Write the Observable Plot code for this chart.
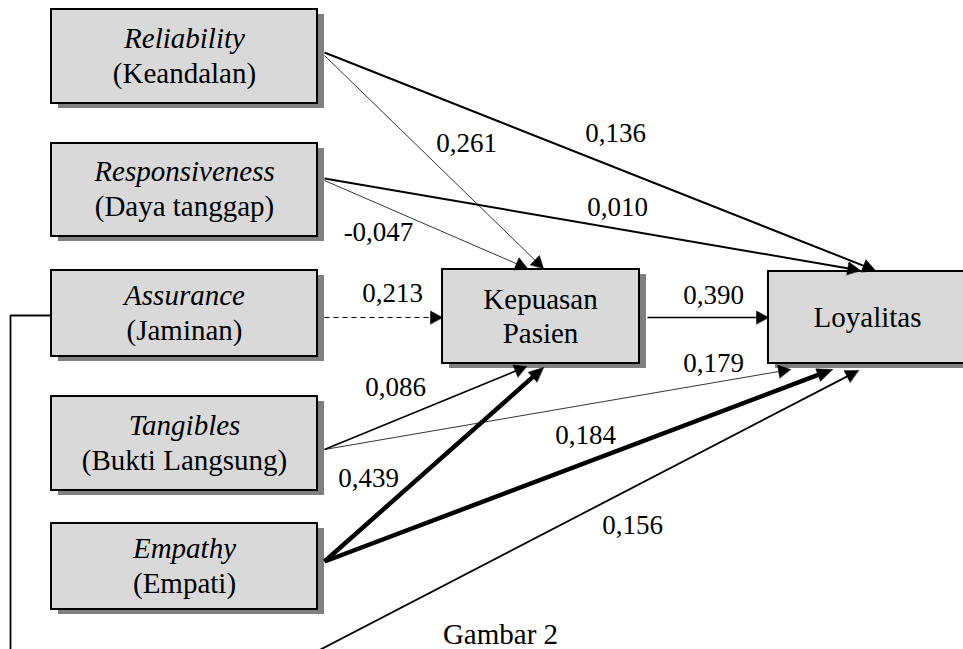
<!DOCTYPE html>
<html><head><meta charset="utf-8">
<script src="https://cdn.jsdelivr.net/npm/d3@7"></script>
<script src="https://cdn.jsdelivr.net/npm/@observablehq/plot@0.6"></script>
<style>body{margin:0;background:#fff} svg{display:block;overflow:hidden} svg text{font-family:"Liberation Serif","Times New Roman",serif !important}</style>
</head><body><div id="chart"></div>
<script>
// ---- data ----
const nodeIds = ["rel", "resp", "ass", "tan", "emp", "kep", "loy"];
const nodeTitles = ["Reliability", "Responsiveness", "Assurance", "Tangibles", "Empathy", "Kepuasan", "Loyalitas"];
const nodeSubtitles = ["(Keandalan)", "(Daya tanggap)", "(Jaminan)", "(Bukti Langsung)", "(Empati)", "Pasien", ""];
const pathFrom = ["rel", "rel", "resp", "resp", "ass", "kep", "tan", "tan", "emp", "emp", "ass"];
const pathTo   = ["kep", "loy", "kep", "loy", "kep", "loy", "kep", "loy", "kep", "loy", "loy"];
const coefficients = ["0,261", "0,136", "-0,047", "0,010", "0,213", "0,390", "0,086", "0,179", "0,439", "0,184", "0,156"];
const caption = "Gambar 2";

// ---- layout (pixel positions in the diagram's coordinate space) ----
const boxLayout = {
  rel: [51, 9, 317, 103], resp: [51, 143, 317, 236], ass: [51, 270, 317, 356],
  tan: [51, 396, 317, 490], emp: [51, 523, 317, 609],
  kep: [442, 269, 639, 363], loy: [768, 271, 975, 363]
};
const textCenters = {rel: 184, resp: 184, ass: 184, tan: 184, emp: 184, kep: 540, loy: 867};
// each path: list of points (start ... tip), label position, stroke width, dashed, head size
const pathLayout = [
  {pts: [[324, 55], [543, 268]], label: [466, 143], w: 0.8, head: 14},
  {pts: [[324, 52], [875, 270]], label: [615, 133], w: 2, head: 15},
  {pts: [[324, 180], [527, 268]], label: [378, 232], w: 0.8, head: 14},
  {pts: [[324, 178], [860, 270]], label: [617, 207], w: 2, head: 15},
  {pts: [[324, 317], [442, 317]], label: [392, 293], w: 1.2, head: 14, dash: true},
  {pts: [[647, 317], [768, 317]], label: [713, 295], w: 1.6, head: 14},
  {pts: [[324, 449], [526, 366]], label: [395, 387], w: 1.6, head: 14},
  {pts: [[324, 449], [790, 369]], label: [713, 363], w: 0.8, head: 14},
  {pts: [[324, 561], [543, 367]], label: [368, 478], w: 4.5, head: 17},
  {pts: [[324, 561], [832, 369]], label: [585, 435], w: 4.5, head: 18},
  {pts: [[51, 315], [10, 315], [10, 690], [241, 690], [858, 370]], label: [632, 525], w: 1.8, head: 15}
];

// ---- build tables ----
const boxes = nodeIds.map((id, i) => {
  const [x1, y1, x2, y2] = boxLayout[id];
  return {id, title: nodeTitles[i], sub: nodeSubtitles[i], x1, y1, x2, y2, cx: textCenters[id], cy: (y1 + y2) / 2};
});

const segments = [], polylines = [], heads = [], labels = [];
pathLayout.forEach((p, i) => {
  const pts = p.pts.map(d => d.slice());
  const n = pts.length;
  const [sx, sy] = pts[n - 2], [tx, ty] = pts[n - 1];
  const L = Math.hypot(tx - sx, ty - sy);
  const ux = (tx - sx) / L, uy = (ty - sy) / L;
  heads.push({x: tx, y: ty, rotate: Math.atan2(ux, -uy) * 180 / Math.PI, len: p.head});
  pts[n - 1] = [tx - ux * p.head * 0.7, ty - uy * p.head * 0.7];
  if (n === 2) {
    segments.push({x1: pts[0][0], y1: pts[0][1], x2: pts[1][0], y2: pts[1][1], w: p.w, dash: !!p.dash,
                   from: pathFrom[i], to: pathTo[i]});
  } else {
    pts.forEach(([x, y]) => polylines.push({x, y, w: p.w, path: i}));
  }
  labels.push({x: p.label[0], y: p.label[1], text: coefficients[i]});
});

const arrowShape = {
  draw(context, l, r) {
    context.moveTo(0, -l);
    context.lineTo(-r, 0);
    context.lineTo(r, 0);
    context.closePath();
  }
};

const font = "Liberation Serif";
const left = boxes.filter(b => !["kep", "loy"].includes(b.id));
const T = {fontSize: 29, fill: "black", fontFamily: font};

const chart = Plot.plot({
  width: 963, height: 649, margin: 0,
  x: {domain: [0, 963], range: [0, 963], axis: null},
  y: {domain: [0, 649], range: [0, 649], axis: null},
  style: {fontFamily: font, background: "white"},
  marks: [
    Plot.rect(boxes, {x1: "x1", x2: "x2", y1: "y1", y2: "y2", fill: "#808080", dx: 7, dy: 5}),
    Plot.rect(boxes, {x1: "x1", x2: "x2", y1: "y1", y2: "y2", fill: "#d9d9d9", stroke: "black", strokeWidth: 2}),
    Plot.link(segments.filter(d => !d.dash), {x1: "x1", y1: "y1", x2: "x2", y2: "y2", stroke: "black", strokeWidth: "w"}),
    Plot.link(segments.filter(d => d.dash), {x1: "x1", y1: "y1", x2: "x2", y2: "y2", stroke: "black", strokeWidth: "w", strokeDasharray: "5,4"}),
    Plot.line(polylines, {x: "x", y: "y", z: "path", stroke: "black", strokeWidth: 1.8, strokeLinejoin: "miter", strokeLinecap: "butt"}),
    Plot.vector(heads, {x: "x", y: "y", rotate: "rotate", length: d => d.len, anchor: "end", shape: arrowShape, r: 6.5,
                        fill: "black", stroke: "black", strokeWidth: 0.5}),
    Plot.text(left, {x: "cx", y: d => d.cy - 18, text: "title", fontStyle: "italic", ...T}),
    Plot.text(left, {x: "cx", y: d => d.cy + 17, text: "sub", ...T}),
    Plot.text(boxes.filter(b => b.id === "kep"), {x: "cx", y: d => d.cy - 17, text: "title", ...T}),
    Plot.text(boxes.filter(b => b.id === "kep"), {x: "cx", y: d => d.cy + 17, text: "sub", ...T}),
    Plot.text(boxes.filter(b => b.id === "loy"), {x: "cx", y: "cy", text: "title", ...T}),
    Plot.text(labels, {x: "x", y: "y", text: "text", ...T, fontSize: 27}),
    Plot.text([caption], {x: 500, y: 634, text: d => d, ...T})
  ]
});
document.getElementById("chart").append(chart);
</script></body></html>
